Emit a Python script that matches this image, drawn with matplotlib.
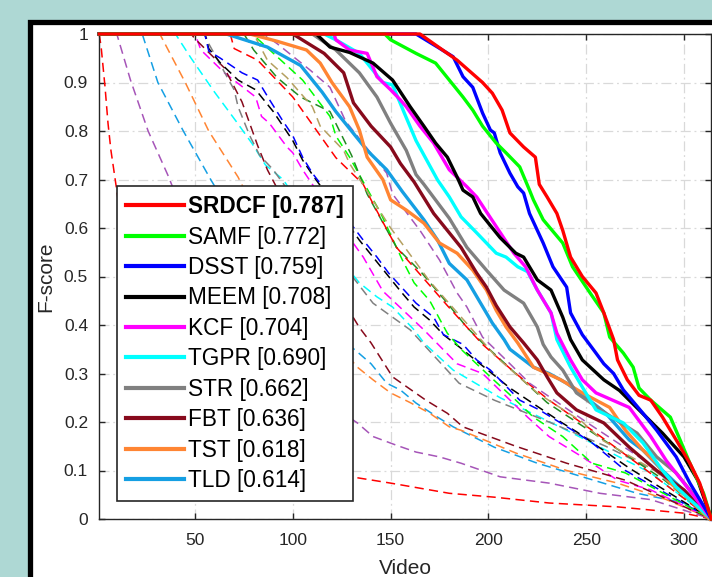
import matplotlib
matplotlib.use('Agg')
from matplotlib import pyplot as plt
from matplotlib.patches import Rectangle

plt.rcParams['font.family'] = ['Liberation Sans', 'DejaVu Sans']

# ---- solid curves (top 10 trackers) ----
names = ['SRDCF', 'SAMF', 'DSST', 'MEEM', 'KCF', 'TGPR', 'STR', 'FBT', 'TST', 'TLD']
scores = ['0.787', '0.772', '0.759', '0.708', '0.704', '0.690', '0.662', '0.636', '0.618', '0.614']
colors = ['#ff0000', '#00ff00', '#0000ff', '#000000', '#ff00ff',
          '#00ffff', '#808080', '#870a1c', '#ff8533', '#159fe3']

srdcf_x = [1, 165, 172, 184, 197, 202, 207, 211, 218, 224, 226, 230, 235, 238, 242, 248, 255, 259, 264, 266, 271, 277, 283, 289, 296, 303, 308, 314]
srdcf_y = [1, 1, 0.98, 0.946, 0.90, 0.878, 0.843, 0.796, 0.767, 0.746, 0.69, 0.664, 0.63, 0.595, 0.54, 0.50, 0.466, 0.425, 0.37, 0.328, 0.287, 0.255, 0.245, 0.21, 0.163, 0.115, 0.074, 0]
samf_x = [1, 147, 150, 163, 173, 180, 187, 192, 197, 204, 209, 216, 221, 223, 228, 238, 243, 252, 259, 262, 269, 274, 277, 283, 293, 298, 303, 310, 314]
samf_y = [1, 1, 0.988, 0.96, 0.94, 0.905, 0.87, 0.843, 0.81, 0.775, 0.755, 0.726, 0.678, 0.658, 0.617, 0.569, 0.52, 0.466, 0.425, 0.375, 0.342, 0.313, 0.27, 0.245, 0.21, 0.163, 0.115, 0.053, 0]
dsst_x = [1, 163, 174, 182, 187, 192, 197, 201, 203, 206, 211, 215, 218, 221, 228, 233, 240, 242, 248, 255, 259, 264, 269, 279, 286, 296, 303, 314]
dsst_y = [1, 1, 0.973, 0.953, 0.912, 0.89, 0.837, 0.802, 0.796, 0.755, 0.713, 0.685, 0.672, 0.63, 0.569, 0.52, 0.478, 0.425, 0.38, 0.342, 0.32, 0.30, 0.266, 0.218, 0.183, 0.128, 0.074, 0]
meem_x = [1, 112, 119, 129, 141, 151, 160, 167, 173, 179, 184, 187, 192, 196, 206, 214, 218, 225, 232, 238, 242, 248, 259, 267, 277, 289, 300, 307, 314]
meem_y = [1, 1, 0.973, 0.962, 0.94, 0.905, 0.85, 0.81, 0.775, 0.746, 0.705, 0.678, 0.664, 0.63, 0.58, 0.548, 0.54, 0.493, 0.472, 0.416, 0.37, 0.328, 0.287, 0.265, 0.225, 0.177, 0.128, 0.08, 0]
kcf_x = [1, 121, 122, 129, 138, 143, 150, 155, 158, 165, 172, 180, 189, 194, 213, 219, 225, 232, 235, 242, 248, 255, 272, 283, 291, 300, 314]
kcf_y = [1, 1, 0.988, 0.967, 0.96, 0.912, 0.885, 0.864, 0.85, 0.81, 0.775, 0.72, 0.685, 0.664, 0.548, 0.52, 0.472, 0.425, 0.383, 0.328, 0.287, 0.26, 0.23, 0.17, 0.12, 0.074, 0]
tgpr_x = [1, 116, 122, 134, 146, 151, 157, 163, 174, 180, 186, 194, 204, 209, 215, 220, 225, 232, 235, 242, 248, 255, 269, 279, 289, 296, 314]
tgpr_y = [1, 1, 0.988, 0.96, 0.90, 0.895, 0.837, 0.78, 0.699, 0.664, 0.623, 0.59, 0.548, 0.54, 0.52, 0.51, 0.472, 0.425, 0.37, 0.313, 0.272, 0.225, 0.198, 0.157, 0.10, 0.066, 0]
str_x = [1, 110, 122, 134, 143, 150, 158, 163, 167, 180, 189, 199, 208, 218, 225, 228, 232, 238, 245, 260, 276, 286, 296, 303, 314]
str_y = [1, 1, 0.967, 0.92, 0.87, 0.816, 0.76, 0.71, 0.69, 0.62, 0.56, 0.513, 0.472, 0.445, 0.396, 0.36, 0.334, 0.307, 0.26, 0.218, 0.177, 0.128, 0.095, 0.06, 0]
fbt_x = [1, 100, 104, 116, 126, 131, 140, 150, 155, 162, 172, 179, 186, 194, 199, 204, 211, 218, 225, 230, 235, 245, 259, 272, 286, 300, 314]
fbt_y = [1, 1, 0.99, 0.96, 0.92, 0.858, 0.81, 0.767, 0.733, 0.695, 0.63, 0.595, 0.56, 0.507, 0.478, 0.44, 0.396, 0.363, 0.328, 0.293, 0.26, 0.225, 0.198, 0.148, 0.10, 0.06, 0]
tst_x = [1, 78, 92, 107, 114, 120, 129, 134, 138, 146, 150, 158, 167, 175, 184, 192, 199, 204, 209, 215, 223, 237, 248, 262, 270, 279, 286, 293, 303, 313]
tst_y = [1, 1, 0.985, 0.967, 0.94, 0.90, 0.85, 0.802, 0.746, 0.70, 0.658, 0.637, 0.61, 0.569, 0.548, 0.513, 0.472, 0.43, 0.396, 0.363, 0.313, 0.287, 0.26, 0.23, 0.183, 0.142, 0.115, 0.074, 0.04, 0]
tld_x = [1, 66, 87, 104, 115, 122, 130, 138, 148, 156, 167, 174, 180, 189, 196, 202, 208, 211, 223, 231, 240, 250, 260, 272, 279, 289, 298, 313]
tld_y = [1, 1, 0.973, 0.935, 0.88, 0.84, 0.80, 0.76, 0.72, 0.675, 0.617, 0.575, 0.527, 0.493, 0.445, 0.404, 0.37, 0.35, 0.313, 0.30, 0.28, 0.25, 0.218, 0.163, 0.142, 0.10, 0.066, 0]

solid_x = [srdcf_x, samf_x, dsst_x, meem_x, kcf_x, tgpr_x, str_x, fbt_x, tst_x, tld_x]
solid_y = [srdcf_y, samf_y, dsst_y, meem_y, kcf_y, tgpr_y, str_y, fbt_y, tst_y, tld_y]

# ---- dashed curves (other trackers) ----
d_red1_x = [1, 2, 4, 5.5, 7, 9, 12, 20, 35, 60, 90, 133, 150, 170, 180, 203, 231, 266, 300, 314]
d_red1_y = [1, 0.973, 0.89, 0.816, 0.76, 0.705, 0.62, 0.47, 0.33, 0.21, 0.14, 0.085, 0.074, 0.06, 0.053, 0.045, 0.033, 0.025, 0.012, 0]
d_purple1_x = [1, 10, 17, 26, 36, 50, 70, 100, 133, 141, 153, 163, 175, 186, 206, 231, 257, 283, 314]
d_purple1_y = [1, 1, 0.905, 0.80, 0.71, 0.57, 0.43, 0.29, 0.198, 0.17, 0.152, 0.138, 0.128, 0.115, 0.087, 0.074, 0.053, 0.04, 0]
d_lblue_x = [1, 23, 31, 44, 58, 80, 105, 132, 140, 148, 155, 163, 174, 182, 203, 225, 248, 276, 300, 314]
d_lblue_y = [1, 1, 0.9, 0.8, 0.7, 0.55, 0.43, 0.348, 0.32, 0.28, 0.266, 0.239, 0.21, 0.19, 0.148, 0.115, 0.087, 0.053, 0.033, 0]
d_orange_x = [1, 32, 45, 57, 72, 90, 110, 133, 141, 150, 160, 170, 180, 186, 214, 240, 266, 291, 314]
d_orange_y = [1, 1, 0.9, 0.8, 0.705, 0.56, 0.42, 0.313, 0.287, 0.26, 0.24, 0.218, 0.19, 0.183, 0.136, 0.10, 0.074, 0.04, 0]
d_cyan_x = [1, 40, 48, 60, 71, 79, 86, 95, 115, 134, 143, 151, 162, 167, 182, 206, 240, 283, 314]
d_cyan_y = [1, 1, 0.95, 0.88, 0.82, 0.775, 0.73, 0.70, 0.58, 0.487, 0.458, 0.437, 0.39, 0.363, 0.307, 0.25, 0.183, 0.095, 0]
d_magenta_x = [1, 50, 53, 65, 81, 84, 88, 97, 100, 105, 120, 136, 146, 167, 184, 197, 220, 231, 248, 266, 283, 314]
d_magenta_y = [1, 1, 0.967, 0.92, 0.87, 0.83, 0.816, 0.767, 0.755, 0.72, 0.63, 0.54, 0.47, 0.39, 0.32, 0.30, 0.21, 0.17, 0.128, 0.08, 0.06, 0]
d_dred_x = [1, 48, 50, 65, 74, 82, 87, 100, 115, 134, 140, 151, 168, 179, 187, 214, 240, 270, 314]
d_dred_y = [1, 1, 0.99, 0.93, 0.86, 0.77, 0.72, 0.62, 0.52, 0.395, 0.363, 0.293, 0.245, 0.218, 0.19, 0.15, 0.115, 0.08, 0]
d_gray_x = [1, 55, 57, 70, 72, 78, 83, 90, 115, 141, 160, 185, 203, 231, 260, 290, 314]
d_gray_y = [1, 1, 0.98, 0.885, 0.85, 0.79, 0.75, 0.72, 0.58, 0.445, 0.39, 0.28, 0.245, 0.2, 0.15, 0.09, 0]
d_black_x = [1, 55, 57, 63, 72, 81, 90, 100, 105, 110, 134, 155, 162, 170, 177, 185, 211, 237, 245, 272, 314]
d_black_y = [1, 1, 0.97, 0.94, 0.905, 0.885, 0.84, 0.78, 0.74, 0.71, 0.575, 0.47, 0.437, 0.41, 0.38, 0.355, 0.27, 0.2, 0.18, 0.105, 0]
d_blue_x = [1, 55, 57, 63, 74, 82, 88, 95, 100, 105, 110, 136, 143, 149, 163, 172, 177, 187, 194, 201, 216, 226, 243, 253, 270, 314]
d_blue_y = [1, 1, 0.965, 0.95, 0.92, 0.905, 0.865, 0.82, 0.79, 0.746, 0.713, 0.575, 0.54, 0.507, 0.445, 0.416, 0.38, 0.36, 0.328, 0.307, 0.245, 0.225, 0.183, 0.157, 0.1, 0]
d_green_x = [1, 80, 82, 105, 119, 122, 129, 145, 156, 162, 170, 179, 186, 201, 214, 223, 238, 253, 270, 314]
d_green_y = [1, 1, 0.99, 0.905, 0.83, 0.79, 0.746, 0.63, 0.534, 0.487, 0.45, 0.383, 0.35, 0.293, 0.245, 0.21, 0.17, 0.115, 0.095, 0]
d_dgreen_x = [1, 75, 80, 92, 104, 119, 130, 138, 153, 166, 179, 189, 197, 230, 260, 290, 314]
d_dgreen_y = [1, 1, 0.967, 0.91, 0.87, 0.84, 0.75, 0.67, 0.56, 0.507, 0.445, 0.395, 0.363, 0.24, 0.16, 0.08, 0]
d_red2_x = [1, 68, 70, 82, 100, 122, 136, 141, 153, 166, 179, 197, 214, 231, 253, 276, 314]
d_red2_y = [1, 1, 0.97, 0.946, 0.87, 0.745, 0.69, 0.65, 0.56, 0.50, 0.44, 0.36, 0.30, 0.245, 0.183, 0.115, 0]
d_olive_x = [1, 80, 87, 97, 110, 114, 126, 129, 150, 170, 204, 225, 248, 258, 285, 314]
d_olive_y = [1, 1, 0.946, 0.91, 0.85, 0.81, 0.76, 0.733, 0.60, 0.49, 0.334, 0.26, 0.20, 0.163, 0.10, 0]
d_purple2_x = [1, 85, 92, 109, 119, 127, 148, 151, 165, 175, 184, 189, 197, 211, 221, 250, 280, 314]
d_purple2_y = [1, 1, 0.98, 0.925, 0.89, 0.82, 0.713, 0.67, 0.595, 0.534, 0.466, 0.437, 0.375, 0.32, 0.28, 0.2, 0.12, 0]

dashed = [
    (d_red1_x, d_red1_y, '#ff0000'),
    (d_purple1_x, d_purple1_y, '#a655b8'),
    (d_lblue_x, d_lblue_y, '#159fe3'),
    (d_orange_x, d_orange_y, '#ff8533'),
    (d_cyan_x, d_cyan_y, '#00ffff'),
    (d_magenta_x, d_magenta_y, '#ff00ff'),
    (d_dred_x, d_dred_y, '#870a1c'),
    (d_gray_x, d_gray_y, '#808080'),
    (d_black_x, d_black_y, '#000000'),
    (d_blue_x, d_blue_y, '#0000ff'),
    (d_green_x, d_green_y, '#00ff00'),
    (d_dgreen_x, d_dgreen_y, '#228b22'),
    (d_red2_x, d_red2_y, '#ff0000'),
    (d_olive_x, d_olive_y, '#b5a060'),
    (d_purple2_x, d_purple2_y, '#a655b8'),
]

W, H = 712, 577
fig = plt.figure(figsize=(W / 100, H / 100), dpi=100)
fig.patch.set_facecolor('#aed8d4')
# white slide panel with black border
fig.patches.append(Rectangle((30 / W, -0.1), 1.2, 1 - 21.5 / H + 0.1,
                             transform=fig.transFigure, facecolor='white',
                             edgecolor='black', linewidth=3.8, zorder=-10))

ax = fig.add_axes([99.2 / W, 58 / H, 612.2 / W, 485 / H])
ax.set_facecolor('white')

for xs, ys, c in dashed:
    ax.plot(xs, ys, color=c, lw=1.1, linestyle=(0, (6, 3.5)), clip_on=False, zorder=2)

handles = []
for i in reversed(range(len(names))):
    ln, = ax.plot(solid_x[i], solid_y[i], color=colors[i], lw=2.4, clip_on=False,
                  zorder=3 + (len(names) - i) * 0.01,
                  label=names[i] + ' [' + scores[i] + ']')
    handles.append(ln)
handles = handles[::-1]

ax.set_xlim(1, 314)
ax.set_ylim(0, 1)
ax.set_xticks([50, 100, 150, 200, 250, 300])
ax.set_yticks([0, 0.1, 0.2, 0.3, 0.4, 0.5, 0.6, 0.7, 0.8, 0.9, 1])
ax.set_yticklabels(['0', '0.1', '0.2', '0.3', '0.4', '0.5', '0.6', '0.7', '0.8', '0.9', '1'])
ax.grid(True, color='#d9d9d9', linestyle=(0, (8, 3, 1.5, 3)), lw=0.9)
ax.set_axisbelow(True)
ax.tick_params(direction='in', length=4, width=1, colors='#262626', labelsize=12.5,
               top=True, right=True)
ax.tick_params(axis='x', pad=10)
ax.tick_params(axis='y', pad=8)
for s in ax.spines.values():
    s.set_color('#262626')
    s.set_linewidth(1.0)

ax.set_xlabel('Video', fontsize=15, color='#262626', labelpad=8)
ax.set_ylabel('F-score', fontsize=15, color='#262626', labelpad=6)

leg = ax.legend(handles=handles, loc='upper left',
                bbox_to_anchor=(117 / W, 1 - 186 / H), bbox_transform=fig.transFigure,
                borderaxespad=0, fontsize=16.3, handlelength=2.55, handletextpad=0.18,
                labelspacing=0.33, borderpad=0.4, fancybox=False, framealpha=1,
                edgecolor='#262626')
leg.get_frame().set_linewidth(1.2)
leg.get_texts()[0].set_fontweight('bold')
for lh in leg.get_lines():
    lh.set_linewidth(3)
leg.set_zorder(10)

fig.savefig('out.png', dpi=100, facecolor=fig.get_facecolor())
